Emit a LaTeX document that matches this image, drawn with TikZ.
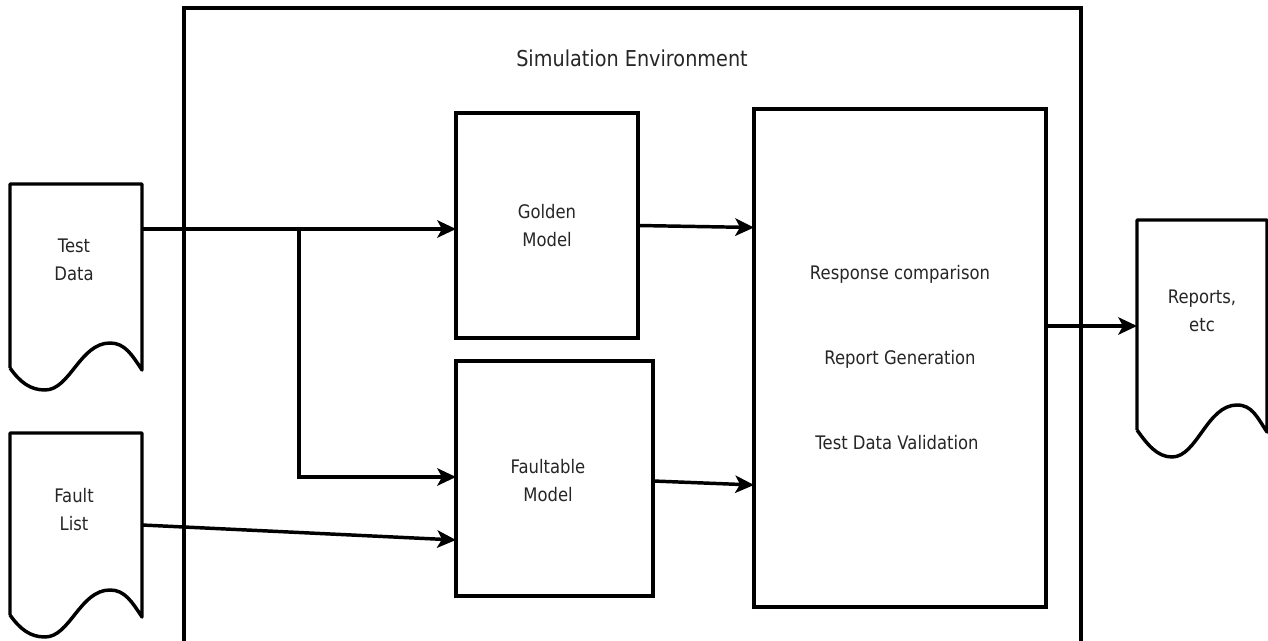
\documentclass[tikz,border=0pt]{standalone}
\usepackage{fontspec}
\setmainfont{DejaVu Sans}[FakeStretch=0.88]
\usetikzlibrary{arrows.meta,calc}
\newcommand\docpath[2]{%
  \draw[docline] ($(#1.south west)+(0,-2)$) -- (#1.north west) -- (#1.north east) -- (#1.south east)
    .. controls +(-10,-15) and +(15,0) .. ($(#1.south west)+(100,-27)$)
    .. controls +(-30,0) and +(25,0) .. ($(#1.south west)+(35,#2)$)
    .. controls +(-15,0) and +(10,14) .. ($(#1.south west)+(0,-2)$);}
\tikzset{
  box/.style={draw, line width=2.6pt, inner sep=0pt, outer sep=0pt},
  body/.style={inner sep=0pt, outer sep=0pt},
  docline/.style={line width=2.6pt, line join=round},
  lbl/.style={text=black!85, align=center, font=\fontsize{14}{21}\selectfont, inner sep=0pt},
  conn/.style={line width=2.6pt},
  arr/.style={conn, -{Stealth[length=14pt, width=13pt, inset=3.5pt]}}
}
\begin{document}
\begin{tikzpicture}[x=0.75pt, y=-0.75pt]
\useasboundingbox (0,0) rectangle (1268,641);
\fill[white] (0,0) rectangle (1268,641);
% simulation environment frame
\begin{scope}
\clip (0,0) rectangle (1268,641);
\node[box, minimum width=672.75pt, minimum height=495pt] (env) at (632.5,338) {};
\end{scope}
\node[lbl, font=\fontsize{16.4}{20}\selectfont] (envl) at (632,58) {Simulation Environment};
% blocks
\node[box, minimum width=136.5pt, minimum height=168.75pt] (gm) at (547,225.5) {};
\node[lbl] (gml) at (547,226) {Golden\\Model};
\node[box, minimum width=147.75pt, minimum height=176.25pt] (fm) at (554.5,478.5) {};
\node[lbl] (fml) at (548,481) {Faultable\\Model};
\node[box, minimum width=219pt, minimum height=373.5pt] (big) at (900,358) {};
\node[lbl] (rc) at (900,274) {Response comparison};
\node[lbl] (rg) at (900,359) {Report Generation};
\node[lbl] (tv) at (897,443) {Test Data Validation};
% documents
\node[body, minimum width=99pt, minimum height=139.5pt] (td) at (76,277) {};
\docpath{td}{20}
\node[lbl] (tdl) at (74,260) {Test\\Data};
\node[body, minimum width=99pt, minimum height=138pt] (fl) at (76,525) {};
\docpath{fl}{20}
\node[lbl] (fll) at (74,510) {Fault\\List};
\node[body, minimum width=97.5pt, minimum height=159pt] (rep) at (1202,326) {};
\docpath{rep}{25}
\node[lbl] (repl) at (1202,311) {Reports,\\etc};
% connectors
\coordinate (br) at (299,229);
\coordinate (fmb) at (0,485);
\draw[conn] (td.east |- br) -- (br);
\draw[arr] (br) -- (gm.west |- br);
\draw[arr] (br) |- ($(fm.west)+(0,-1.5)$);
\draw[arr] (fl.east) -- ($(fm.west)+(0,61.5)$);
\draw[arr] (gm.east) -- ($(big.west |- gm.east)+(0,2)$);
\draw[arr] ($(fm.east)+(0,2.5)$) -- (big.west |- fmb);
\draw[arr] (big.east |- rep.west) -- (rep.west);
\end{tikzpicture}
\end{document}
